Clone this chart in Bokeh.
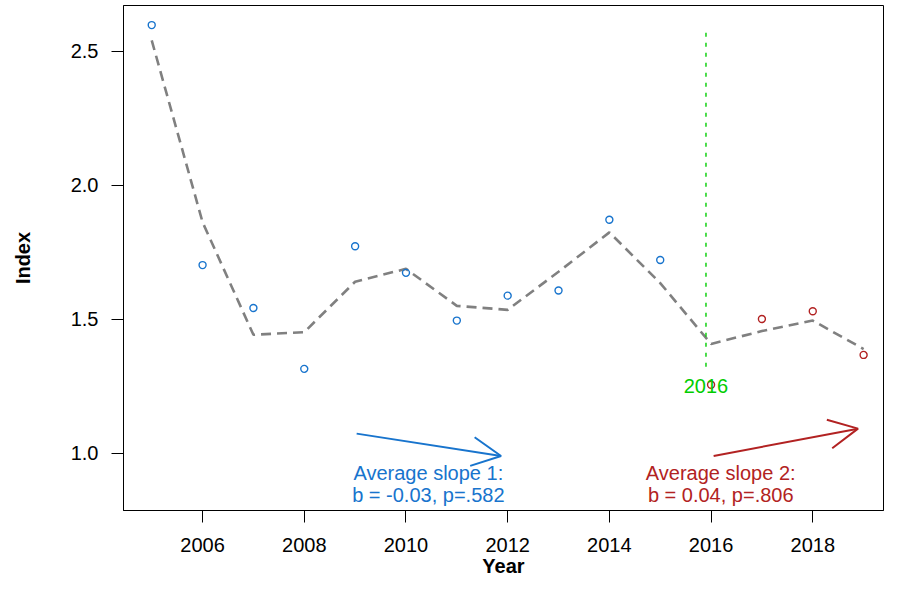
from bokeh.plotting import figure
from bokeh.models import Range1d, Arrow, OpenHead, FixedTicker
from bokeh.core.properties import value
from bokeh.embed import file_html
from bokeh.resources import INLINE

# ---- data ----
years_1 = [2005, 2006, 2007, 2008, 2009, 2010, 2011, 2012, 2013, 2014, 2015]
index_1 = [2.597, 1.702, 1.542, 1.315, 1.772, 1.673, 1.495, 1.588, 1.607, 1.871, 1.721]
years_2 = [2016, 2017, 2018, 2019]
index_2 = [1.256, 1.501, 1.530, 1.367]

smooth_years = [2005, 2006, 2007, 2008, 2009, 2010, 2011, 2012, 2013, 2014, 2015, 2016, 2017, 2018, 2019]
smooth_index = [2.54, 1.862, 1.442, 1.452, 1.640, 1.688, 1.550, 1.535, 1.677, 1.824, 1.635, 1.408, 1.456, 1.495, 1.389]

break_year = 2015.9
break_y = [1.323, 2.577]
break_label = "2016"
break_label_y = 1.252

slope1_arrow = dict(x0=2009.03, y0=1.0735, x1=2011.87, y1=0.990)
slope2_arrow = dict(x0=2016.05, y0=0.990, x1=2018.89, y1=1.092)
slope1_text = ["Average slope 1:", "b = -0.03, p=.582"]
slope2_text = ["Average slope 2:", "b = 0.04, p=.806"]
slope1_text_x = 2010.44
slope2_text_x = 2016.19
slope_text_y = [0.928, 0.843]

x_ticks = [2006, 2008, 2010, 2012, 2014, 2016, 2018]
y_ticks = [1.0, 1.5, 2.0, 2.5]

BLUE = "#1874CD"
RED = "#B22222"
GREEN = "#00CD00"
GRAY = "#808080"
FONT = "Liberation Sans"

p = figure(width=884, height=579,
           x_range=Range1d(2004.445, 2019.391),
           y_range=Range1d(0.7868, 2.670),
           output_backend="svg", toolbar_location=None,
           min_border_left=123, min_border_right=1,
           min_border_top=5, min_border_bottom=68)

p.xgrid.visible = False
p.ygrid.visible = False
p.outline_line_color = "black"
p.outline_line_width = 1
p.background_fill_color = "white"
p.border_fill_color = "white"

for ax in (p.xaxis[0], p.yaxis[0]):
    ax.axis_line_color = "black"
    ax.major_tick_line_color = "black"
    ax.major_tick_in = 0
    ax.major_tick_out = 12
    ax.minor_tick_line_color = None
    ax.major_label_text_font = FONT
    ax.major_label_text_font_size = "20px"
    ax.major_label_text_color = "black"
    ax.axis_label_text_font = FONT
    ax.axis_label_text_font_size = "20px"
    ax.axis_label_text_font_style = "bold"
    ax.axis_label_text_color = "black"

p.xaxis.ticker = FixedTicker(ticks=x_ticks)
p.yaxis.ticker = FixedTicker(ticks=y_ticks)
p.xaxis.major_label_overrides = {t: str(t) for t in x_ticks}
p.yaxis.major_label_overrides = {t: f"{t:.1f}" for t in y_ticks}
p.xaxis.major_label_standoff = 15
p.yaxis.major_label_standoff = 13
p.xaxis.axis_label = "Year"
p.yaxis.axis_label = "Index"
p.xaxis.axis_label_standoff = 0
p.yaxis.axis_label_standoff = 34

# smoothed trend
p.line(smooth_years, smooth_index, line_color=GRAY, line_width=2.6, line_dash="10 6")

# break line
p.line([break_year, break_year], break_y, line_color=GREEN, line_width=1.4, line_dash="4 6")

# points
p.scatter(years_1, index_1, marker="circle", size=7, fill_color=None,
          line_color=BLUE, line_width=1.4)
p.scatter(years_2, index_2, marker="circle", size=7, fill_color=None,
          line_color=RED, line_width=1.4)

p.text(x=[break_year], y=[break_label_y], text=[break_label], text_color=GREEN,
       text_font=value(FONT), text_font_size="20px",
       text_align="center", text_baseline="middle")

# arrows
for arr, col in ((slope1_arrow, BLUE), (slope2_arrow, RED)):
    p.add_layout(Arrow(end=OpenHead(size=29, line_color=col, line_width=2),
                       x_start=arr["x0"], y_start=arr["y0"],
                       x_end=arr["x1"], y_end=arr["y1"],
                       line_color=col, line_width=2))

p.text(x=[slope1_text_x] * 2, y=slope_text_y, text=slope1_text, text_color=BLUE,
       text_font=value(FONT), text_font_size="20px",
       text_align="center", text_baseline="middle")
p.text(x=[slope2_text_x] * 2, y=slope_text_y, text=slope2_text, text_color=RED,
       text_font=value(FONT), text_font_size="20px",
       text_align="center", text_baseline="middle")

open("out.html", "w").write(file_html(p, INLINE))
